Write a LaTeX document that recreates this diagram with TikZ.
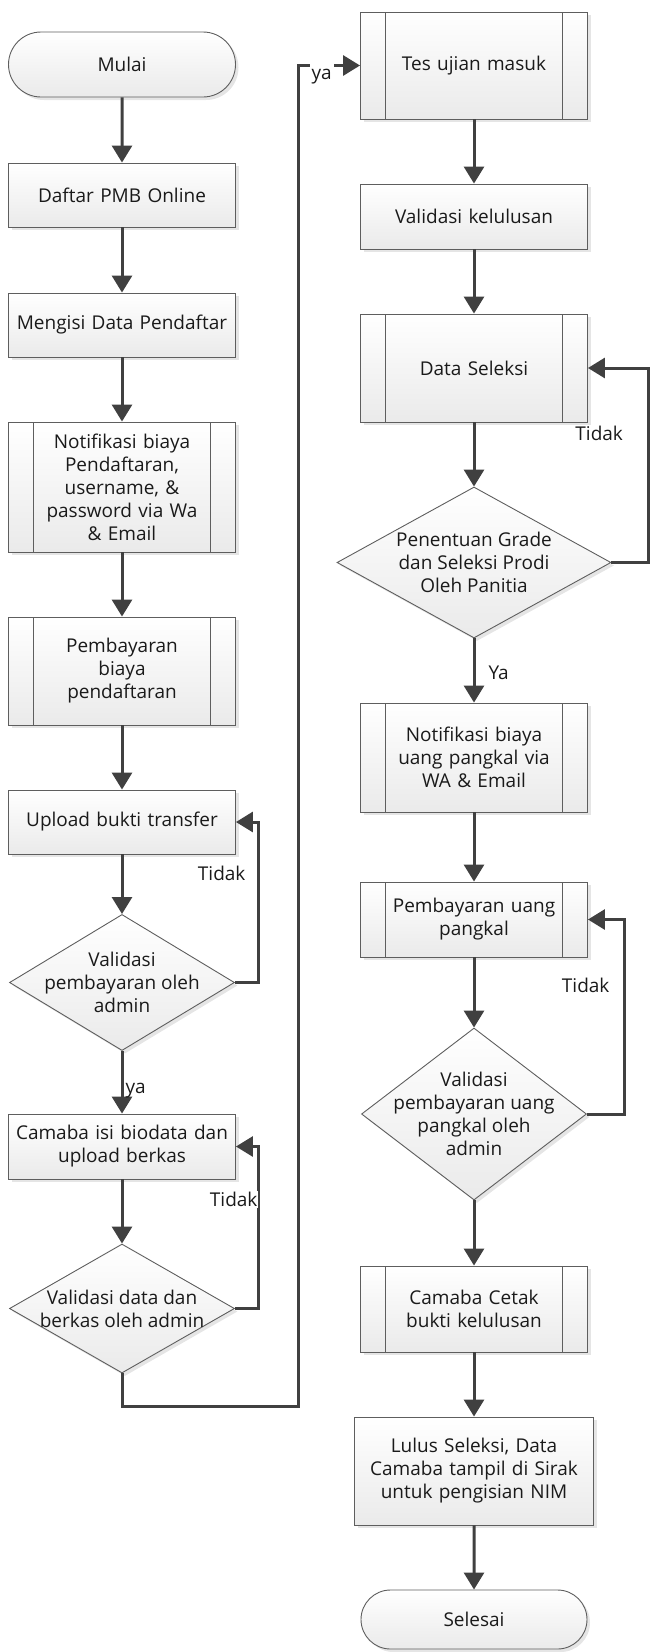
\documentclass[tikz,border=0pt]{standalone}
\usepackage{fontspec}
\setmainfont{Open Sans}
\usetikzlibrary{arrows.meta, shapes.geometric, shapes.misc, shadows}

\definecolor{garis}{HTML}{404040}
\definecolor{tepi}{HTML}{5E5E5E}
\definecolor{isi}{HTML}{EAEAEA}
\definecolor{teks}{HTML}{1A1A1A}

\begin{document}
\begin{tikzpicture}[
        x=1pt, y=-1pt,
        % huruf dasar untuk semua teks
        every node/.style={font=\fontsize{19}{23}\selectfont, text=teks},
        % kotak dengan gradasi dan bayangan tipis
        box/.style={draw=tepi, line width=0.9pt, top color=white, bottom color=isi,
            drop shadow={shadow xshift=3pt, shadow yshift=-3pt, fill=black!10, opacity=1},
            align=center, inner sep=0pt},
        proc/.style={box, rectangle, minimum width=227pt, text width=221pt},
        % proses terdefinisi: garis tegak di kiri dan kanan
        subproc/.style={proc, path picture={
            \draw[tepi, line width=0.9pt]
                ([xshift=25pt]path picture bounding box.north west) --
                ([xshift=25pt]path picture bounding box.south west)
                ([xshift=-25pt]path picture bounding box.north east) --
                ([xshift=-25pt]path picture bounding box.south east);}},
        term/.style={box, rounded rectangle, minimum width=227pt},
        decision/.style={box, diamond, inner sep=-20pt},
        flow/.style={draw=garis, line width=3pt, -{Triangle[length=17pt, width=20pt]}},
        lbl/.style={inner sep=1pt}
    ]
    \useasboundingbox (0,0) rectangle (649,1652);

    % kolom kiri
    \node[term, minimum height=65pt] (mulai) at (122,64.5) {Mulai};
    \node[proc, minimum height=64pt] (daftar) at (122,195) {Daftar PMB Online};
    \node[proc, minimum height=64pt] (mengisi) at (122,325) {Mengisi Data Pendaftar};
    \node[subproc, minimum height=130pt] (notif) at (122,487)
        {Notifikasi biaya\\Pendaftaran,\\username, \&\\password via Wa\\\& Email};
    \node[subproc, minimum height=108pt] (bayar) at (122,671) {Pembayaran\\biaya\\pendaftaran};
    \node[proc, minimum height=64pt] (upload) at (122,822) {Upload bukti transfer};
    \node[decision, minimum width=225pt, minimum height=131pt] (valbayar) at (122,982.5)
        {Validasi\\pembayaran oleh\\admin};
    \node[proc, minimum height=65pt] (biodata) at (122,1146.5) {Camaba isi biodata dan\\upload berkas};
    \node[decision, minimum width=225pt, minimum height=129pt] (valberkas) at (122,1308.5)
        {Validasi data dan\\berkas oleh admin};

    % kolom kanan
    \node[subproc, minimum height=107pt] (tes) at (474,65.5) {Tes ujian masuk};
    \node[proc, minimum height=65pt] (kelulusan) at (474,216.5) {Validasi kelulusan};
    \node[subproc, minimum height=108pt] (seleksi) at (474,368) {Data Seleksi};
    \node[decision, minimum width=274pt, minimum height=151pt] (grade) at (474,562.5)
        {Penentuan Grade\\dan Seleksi Prodi\\Oleh Panitia};
    \node[subproc, minimum height=109pt] (notifpangkal) at (474,757.5)
        {Notifikasi biaya\\uang pangkal via\\WA \& Email};
    \node[subproc, minimum height=75pt] (bayarpangkal) at (474,919.5) {Pembayaran uang\\pangkal};
    \node[decision, minimum width=225pt, minimum height=172pt] (valpangkal) at (474,1114)
        {Validasi\\pembayaran uang\\pangkal oleh\\admin};
    \node[subproc, minimum height=86pt] (cetak) at (474,1309) {Camaba Cetak\\bukti kelulusan};
    \node[proc, minimum width=239pt, minimum height=108pt] (nim) at (474,1471)
        {Lulus Seleksi, Data\\Camaba tampil di Sirak\\untuk pengisian NIM};
    \node[term, minimum width=226pt, minimum height=59pt] (selesai) at (474,1619.5) {Selesai};

    % alur lurus ke bawah
    \foreach \a/\b in {mulai/daftar, daftar/mengisi, mengisi/notif, notif/bayar,
        bayar/upload, upload/valbayar, biodata/valberkas, tes/kelulusan,
        kelulusan/seleksi, seleksi/grade, notifpangkal/bayarpangkal,
        bayarpangkal/valpangkal, valpangkal/cetak, cetak/nim, nim/selesai}
        \draw[flow] (\a) -- (\b);

    \draw[flow] (valbayar) -- node[lbl, right, pos=0.64, xshift=1pt] {ya} (biodata);
    \draw[flow] (grade) -- node[lbl, right, pos=0.53, xshift=12pt] {Ya} (notifpangkal);

    % jalur kembali bila tidak valid
    \draw[flow] (valbayar.east) -- ++(24,0)
        |- node[lbl, left, pos=0.34, xshift=-11pt] {Tidak} (upload.east);
    \draw[flow] (valberkas.east) -- ++(24,0)
        |- node[lbl, left, pos=0.336, xshift=1pt, fill=white] {Tidak} (biodata.east);
    \draw[flow] (grade.east) -- ++(37,0)
        |- node[lbl, left, pos=0.333, xshift=-23pt] {Tidak} (seleksi.east);
    \draw[flow] (valpangkal.east) -- ++(38,0)
        |- node[lbl, left, pos=0.33, xshift=-13pt] {Tidak} (bayarpangkal.east);

    % pindah ke kolom kanan
    \draw[flow] (valberkas.south) -- ++(0,33) -- ++(176,0)
        |- node[lbl, fill=white, inner xsep=2pt, inner ysep=7pt, pos=0.69, yshift=-11.5pt] {ya} (tes.west);
\end{tikzpicture}
\end{document}
